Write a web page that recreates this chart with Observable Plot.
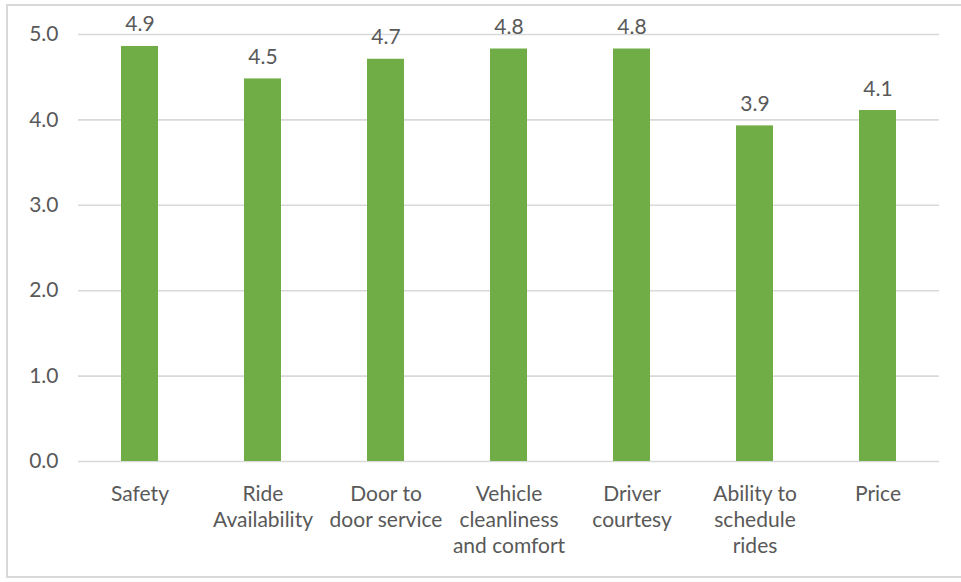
<!DOCTYPE html>
<html>
<head>
<meta charset="utf-8">
<script src="https://cdn.jsdelivr.net/npm/d3@7"></script>
<script src="https://cdn.jsdelivr.net/npm/@observablehq/plot@0.6"></script>
<style>
  html, body { margin: 0; padding: 0; background: #fff; }
  #wrap { position: relative; width: 961px; height: 582px; overflow: hidden; }
  #border { position: absolute; left: 6px; top: 4px; width: 960px; height: 574px; border: 2px solid #d9d9d9; box-sizing: border-box; pointer-events: none; }
</style>
</head>
<body>
<div id="wrap"><div id="border"></div></div>
<script>
const categories = ["Safety", "Ride Availability", "Door to door service", "Vehicle cleanliness and comfort", "Driver courtesy", "Ability to schedule rides", "Price"];
const tickLabels = ["Safety", "Ride\nAvailability", "Door to\ndoor service", "Vehicle\ncleanliness\nand comfort", "Driver\ncourtesy", "Ability to\nschedule\nrides", "Price"];
const values = [4.86, 4.48, 4.71, 4.83, 4.83, 3.93, 4.11];
const yTicks = [0, 1, 2, 3, 4, 5];

const data = categories.map((c, i) => ({category: c, value: values[i]}));
const labelOf = new Map(categories.map((c, i) => [c, tickLabels[i]]));

const chart = Plot.plot({
  width: 961,
  height: 582,
  marginLeft: 78,
  marginRight: 22,
  marginTop: 34,
  marginBottom: 121,
  style: {fontFamily: "Lato, 'Open Sans', sans-serif", fontSize: "21px", color: "#595959", background: "transparent"},
  x: {domain: categories, paddingInner: 0.7, paddingOuter: 0.35, label: null},
  y: {domain: [0, 5], label: null},
  marks: [
    Plot.ruleY(yTicks, {stroke: "#d9d9d9", strokeWidth: 1.6}),
    Plot.barY(data, {x: "category", y: "value", fill: "#70AD47"}),
    Plot.text(data, {x: "category", y: "value", text: d => d3.format(".1f")(d.value), lineAnchor: "bottom", dy: -15, fill: "#595959", fontSize: 21}),
    Plot.axisY({ticks: yTicks, tickFormat: d3.format(".1f"), tickSize: 0, tickPadding: 20, fill: "#595959", fontSize: 21, label: null}),
    Plot.axisX({tickSize: 0, tickPadding: 21, tickFormat: d => labelOf.get(d), lineHeight: 1.24, fill: "#595959", fontSize: 21, label: null})
  ]
});
document.getElementById("wrap").prepend(chart);
</script>
</body>
</html>
